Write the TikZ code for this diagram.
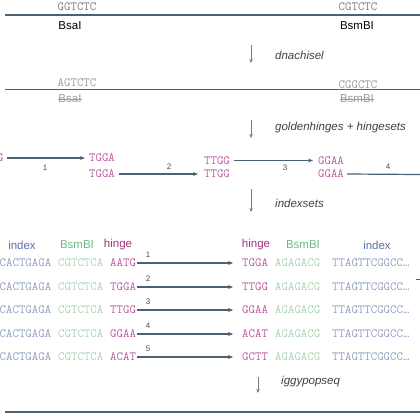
\documentclass[tikz,border=0pt]{standalone}
\usepackage{fontspec}
\setmainfont{Liberation Sans}
\usetikzlibrary{arrows.meta}
\definecolor{lineC}{HTML}{4E6172}
\definecolor{grayT}{HTML}{7A7A7A}
\definecolor{lgrayT}{HTML}{9A9A9A}
\definecolor{hingeC}{HTML}{B8579B}
\definecolor{hingeH}{HTML}{A0347C}
\definecolor{bsmC}{HTML}{A8D3B0}
\definecolor{bsmH}{HTML}{6DB985}
\definecolor{idxC}{HTML}{8E9DC0}
\definecolor{idxH}{HTML}{5A70A6}
\begin{document}
\begin{tikzpicture}[x=1pt,y=-1pt,
  seq/.style={inner sep=0pt,font=\fontsize{12.5}{14}\ttfamily},
  lab/.style={inner sep=0pt,font=\fontsize{11.5}{13}\selectfont},
  steplab/.style={inner sep=0pt,font=\fontsize{11.5}{13}\selectfont\itshape,text=black!75,anchor=west},
  num/.style={inner sep=0pt,font=\fontsize{8}{9}\selectfont,text=black!70},
  dna/.style={draw=lineC,line width=1.5pt},
  conn/.style={draw=lineC,line width=1.2pt,-{Stealth[length=5pt,width=4pt]}},
  vstep/.style={draw=grayT,line width=1pt,-{Stealth[length=4pt,width=3.5pt]}}]
\useasboundingbox (0,0) rectangle (420,420);

% ---- top sequence ----
\node[seq,text=grayT] (s1) at (77,7) {GGTCTC};
\node[seq,text=grayT] (s2) at (358,7) {CGTCTC};
\coordinate (l1a) at (5,15);
\coordinate (l1b) at (420,15);
\draw[dna] (l1a) -- (l1b);
\node[lab] (e1) at (70,26) {BsaI};
\node[lab] (e2) at (357,26) {BsmBI};

\coordinate (v1a) at (251,45); \coordinate (v1b) at (251,63);
\draw[vstep] (v1a) -- (v1b);
\node[steplab] (t1) at (275,55) {dnachisel};

% ---- domesticated sequence ----
\node[seq,text=lgrayT] (s3) at (77,83) {AGTCTC};
\node[seq,text=lgrayT] (s4) at (358,85) {CGGCTC};
\coordinate (l2a) at (5,89.5);
\coordinate (l2b) at (420,89.5);
\draw[dna] (l2a) -- (l2b);
\node[lab,text=lgrayT] (e3) at (70,99) {BsaI};
\node[lab,text=lgrayT] (e4) at (357,99) {BsmBI};
\draw[lgrayT,line width=0.6pt] (e3.west) -- (e3.east);
\draw[lgrayT,line width=0.6pt] (e4.west) -- (e4.east);

\coordinate (v2a) at (251,120); \coordinate (v2b) at (251,138);
\draw[vstep] (v2a) -- (v2b);
\node[steplab] (t2) at (275,128) {goldenhinges + hingesets};

% ---- hinges ----
\node[seq,text=hingeC,anchor=east] (h0) at (3.5,158) {G};
\node[seq,text=hingeC] (h1a) at (102,158) {TGGA};
\node[seq,text=hingeC] (h1b) at (102,174) {TGGA};
\node[seq,text=hingeC] (h2a) at (217,160.5) {TTGG};
\node[seq,text=hingeC] (h2b) at (217,174) {TTGG};
\node[seq,text=hingeC] (h3a) at (331,160.5) {GGAA};
\node[seq,text=hingeC] (h3b) at (331,174) {GGAA};
\coordinate (h4) at (420,174.5);

\draw[conn] ([xshift=3pt]h0.east) -- ([xshift=-4pt]h1a.west);
\draw[conn] ([xshift=4pt]h1b.east) -- ([xshift=-6pt]h2b.west);
\draw[conn] ([xshift=4pt]h2a.east) -- ([xshift=-5pt]h3a.west);
\draw[dna,line width=1.2pt] ([xshift=3pt]h3b.east) -- (h4);
\node[num] (n1) at (45,168) {1};
\node[num] (n2) at (169,167) {2};
\node[num] (n3) at (285,168) {3};
\node[num] (n4) at (388,167) {4};

\coordinate (v3a) at (251,189); \coordinate (v3b) at (251,212);
\draw[vstep] (v3a) -- (v3b);
\node[steplab] (t3) at (275,203) {indexsets};

% ---- index sets ----
\node[lab,text=idxH] (hd1) at (22,245) {index};
\node[lab,text=bsmH] (hd2) at (77,245) {BsmBI};
\node[lab,text=hingeH] (hd3) at (118,245) {hinge};
\node[lab,text=hingeH] (hd4) at (256,245) {hinge};
\node[lab,text=bsmH] (hd5) at (303,245) {BsmBI};
\node[lab,text=idxH] (hd6) at (377,245) {index};

\foreach \i/\y/\hl/\hr in {1/263/AATG/TGGA, 2/287/TGGA/TTGG, 3/310/TTGG/GGAA, 4/334/GGAA/ACAT, 5/357/ACAT/GCTT}{
  \node[seq,text=idxC,anchor=west] (li\i) at (-0.5,\y) {CACTGAGA};
  \node[seq,text=bsmC,anchor=west] (lb\i) at (58,\y) {CGTCTCA};
  \node[seq,text=hingeC,anchor=west] (lh\i) at (110,\y) {\hl};
  \node[seq,text=hingeC,anchor=west] (rh\i) at (242,\y) {\hr};
  \node[seq,text=bsmC,anchor=west] (rb\i) at (275,\y) {AGAGACG};
  \node[seq,text=idxC,anchor=west] (ri\i) at (332,\y) {TTAGTTCGGCC…};
  \draw[conn] ([xshift=1pt]lh\i.east) -- ([xshift=-9pt]rh\i.west);
  \node[num] (m\i) at (148,\y-8.5) {\i};
}
\coordinate (tk1) at (416,279); \coordinate (tk2) at (420,279);
\draw[lineC,line width=1pt] (tk1) -- (tk2);

\coordinate (v4a) at (258,377); \coordinate (v4b) at (258,393);
\draw[vstep] (v4a) -- (v4b);
\node[steplab] (t4) at (281,382) {iggypopseq};

\coordinate (l3a) at (5,412);
\coordinate (l3b) at (420,412);
\draw[dna] (l3a) -- (l3b);
\end{tikzpicture}
\end{document}
